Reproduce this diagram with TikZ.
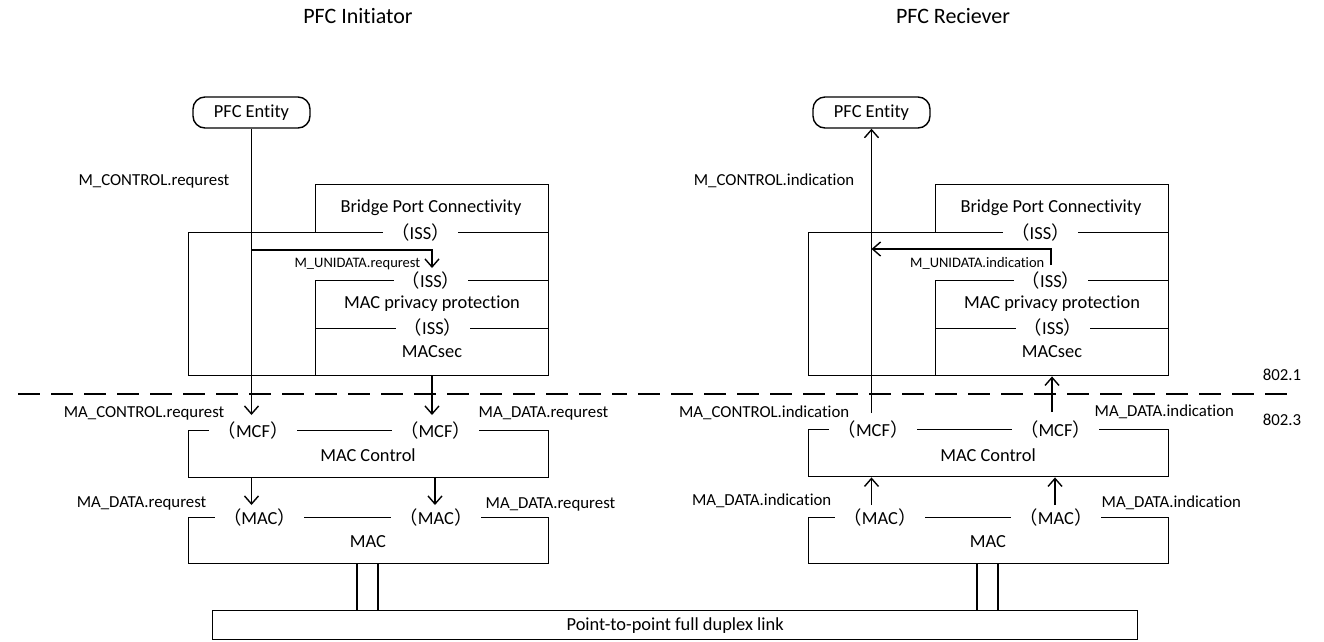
\documentclass[tikz,border=0pt]{standalone}
\usepackage{fontspec}
\setmainfont{Carlito}[Ligatures=NoCommon]
\newfontfamily\cjk{Noto Sans CJK SC}
\usetikzlibrary{arrows.meta}
% service access point labels set on the layer boundaries
\newcommand\sapISS{{\cjk （}ISS{\cjk ）}}
\newcommand\sapMCF{{\cjk （}MCF{\cjk ）}}
\newcommand\sapMAC{{\cjk （}MAC{\cjk ）}}
\begin{document}
\begin{tikzpicture}[x=1pt,y=-1pt,line width=1.4pt,
  every node/.style={font=\fontsize{18.4}{20}\selectfont,inner sep=0pt},
  lbl/.style={font=\fontsize{16.8}{18}\selectfont},
  slbl/.style={font=\fontsize{14.5}{16}\selectfont},
  ttl/.style={font=\fontsize{22}{24}\selectfont},
  blk/.style={draw,line width=1.4pt,anchor=north west},
  ent/.style={draw,line width=1.4pt,rounded corners=12pt,minimum width=117pt,minimum height=31pt},
  sap/.style={fill=white,inner xsep=8.2pt,inner ysep=1pt},
  flow/.style={-{Straight Barb[length=8pt,width=14pt,line width=1.4pt]}},
  divider/.style={line width=1.4pt,dash pattern=on 22pt off 11pt}]
\useasboundingbox (0,0) rectangle (1324,641);

% ---------- titles ----------
\node[ttl] (titleL) at (358,16) {PFC Initiator};
\node[ttl] (titleR) at (953,16) {PFC Reciever};

% ---------- PFC entities ----------
\node[ent] (entL) at (251.5,112.5) {PFC Entity};
\node[ent] (entR) at (871.5,112.5) {PFC Entity};

% ---------- initiator: 802.1 stack ----------
\node[blk,minimum width=233pt,minimum height=48pt] (bpcL) at (315,184) {};
\node[blk,minimum width=360pt,minimum height=143pt] (outL) at (188,232) {};
\node[blk,minimum width=233pt,minimum height=95pt] (mppL) at (315,280) {};
\draw (mppL.west) -- (mppL.east);
\node (tBpcL) at (431,208) {Bridge Port Connectivity};
\node (tMppL) at (432,304) {MAC privacy protection};
\node (tSecL) at (432,352) {MACsec};

% ---------- receiver: 802.1 stack ----------
\node[blk,minimum width=233pt,minimum height=48pt] (bpcR) at (935,184) {};
\node[blk,minimum width=360pt,minimum height=143pt] (outR) at (808,232) {};
\node[blk,minimum width=233pt,minimum height=95pt] (mppR) at (935,280) {};
\draw (mppR.west) -- (mppR.east);
\node (tBpcR) at (1051,208) {Bridge Port Connectivity};
\node (tMppR) at (1052,304) {MAC privacy protection};
\node (tSecR) at (1052,352) {MACsec};

% ---------- 802.3 layers ----------
\node[blk,minimum width=360pt,minimum height=47pt] (mcL) at (188,430) {};
\node (tMcL) at (368,455) {MAC Control};
\node[blk,minimum width=360pt,minimum height=46pt] (macL) at (188,517) {};
\node (tMacL) at (368,542) {MAC};

\node[blk,minimum width=360pt,minimum height=47pt] (mcR) at (808,429) {};
\node (tMcR) at (988,455) {MAC Control};
\node[blk,minimum width=360pt,minimum height=46pt] (macR) at (808,517) {};
\node (tMacR) at (988,542) {MAC};

% ---------- physical link ----------
\node[blk,minimum width=925pt,minimum height=29pt] (link) at (212,610) {};
\node (tLink) at (link.center) {Point-to-point full duplex link};
\coordinate (lkL1) at (357,610);
\coordinate (lkL2) at (378,610);
\coordinate (lkR1) at (977,610);
\coordinate (lkR2) at (998,610);
\draw (lkL1 |- macL.south) -- (lkL1);
\draw (lkL2 |- macL.south) -- (lkL2);
\draw (lkR1 |- macR.south) -- (lkR1);
\draw (lkR2 |- macR.south) -- (lkR2);

% ---------- 802.1 / 802.3 boundary ----------
\coordinate (dv0) at (18,394);
\coordinate (dv1) at (627,394);
\coordinate (dv2) at (638,394);
\coordinate (dv3) at (1296,394);
\draw[divider] (dv0) -- (dv1);
\draw[divider] (dv2) -- (dv3);
\node[lbl] (std1) at (1282,375) {802.1};
\node[lbl] (std3) at (1282,420) {802.3};

% ---------- initiator primitives ----------
\coordinate (cL) at (251.5,415);
\draw[flow] (entL.south) -- (cL);
\coordinate (uL0) at (251.5,250);
\coordinate (uL1) at (432,268);
\draw[flow] (uL0) -| (uL1);
\coordinate (dL) at (432,415);
\draw[flow] (dL |- mppL.south) -- (dL);
\coordinate (eL1) at (251.5,505);
\coordinate (eL2) at (435,505);
\draw[flow] (eL1 |- mcL.south) -- (eL1);
\draw[flow] (eL2 |- mcL.south) -- (eL2);

% ---------- receiver primitives ----------
\coordinate (cR) at (871.5,413);
\draw[flow] (cR) -- (entR.south);
\coordinate (uR0) at (1051,265);
\coordinate (uR1) at (871.5,249);
\draw[flow] (uR0) |- (uR1);
\coordinate (dR) at (1052,412);
\draw[flow] (dR) -- (dR |- mppR.south);
\coordinate (eR1) at (871.5,505);
\coordinate (eR2) at (1055,505);
\draw[flow] (eR1) -- (eR1 |- mcR.south);
\draw[flow] (eR2) -- (eR2 |- mcR.south);

% ---------- access points on the boundaries ----------
\node[sap] (iss1L) at (420.5,232) {\sapISS};
\node[sap] (iss2L) at (431,280) {\sapISS};
\node[sap] (iss3L) at (433,327.5) {\sapISS};
\node[sap] (iss1R) at (1040.5,232) {\sapISS};
\node[sap] (iss2R) at (1051,280) {\sapISS};
\node[sap] (iss3R) at (1053,327.5) {\sapISS};
\node[sap] (mcf1L) at (253,430) {\sapMCF};
\node[sap] (mcf2L) at (435.5,430) {\sapMCF};
\node[sap] (mcf1R) at (873,429) {\sapMCF};
\node[sap] (mcf2R) at (1055.5,429) {\sapMCF};
\node[sap] (mac1L) at (259.5,517) {\sapMAC};
\node[sap] (mac2L) at (436,517) {\sapMAC};
\node[sap] (mac1R) at (880,517) {\sapMAC};
\node[sap] (mac2R) at (1056,517) {\sapMAC};

% ---------- primitive names ----------
\node[lbl,anchor=east] (nCtlL) at (230,181) {M\_CONTROL.requrest};
\node[slbl,anchor=east] (nUniL) at (421,264) {M\_UNIDATA.requrest};
\node[lbl,anchor=east] (nMaCtlL) at (225,413) {MA\_CONTROL.requrest};
\node[lbl,anchor=west] (nMaDatL) at (478,413) {MA\_DATA.requrest};
\node[lbl,anchor=east] (nMacL1) at (207,503) {MA\_DATA.requrest};
\node[lbl,anchor=west] (nMacL2) at (485,504) {MA\_DATA.requrest};

\node[lbl,anchor=east] (nCtlR) at (855,181) {M\_CONTROL.indication};
\node[slbl,anchor=east] (nUniR) at (1045,263) {M\_UNIDATA.indication};
\node[lbl,anchor=east] (nMaCtlR) at (850,413) {MA\_CONTROL.indication};
\node[lbl,anchor=west] (nMaDatR) at (1094,412) {MA\_DATA.indication};
\node[lbl,anchor=east] (nMacR1) at (832,501) {MA\_DATA.indication};
\node[lbl,anchor=west] (nMacR2) at (1101,503) {MA\_DATA.indication};
\end{tikzpicture}
\end{document}
